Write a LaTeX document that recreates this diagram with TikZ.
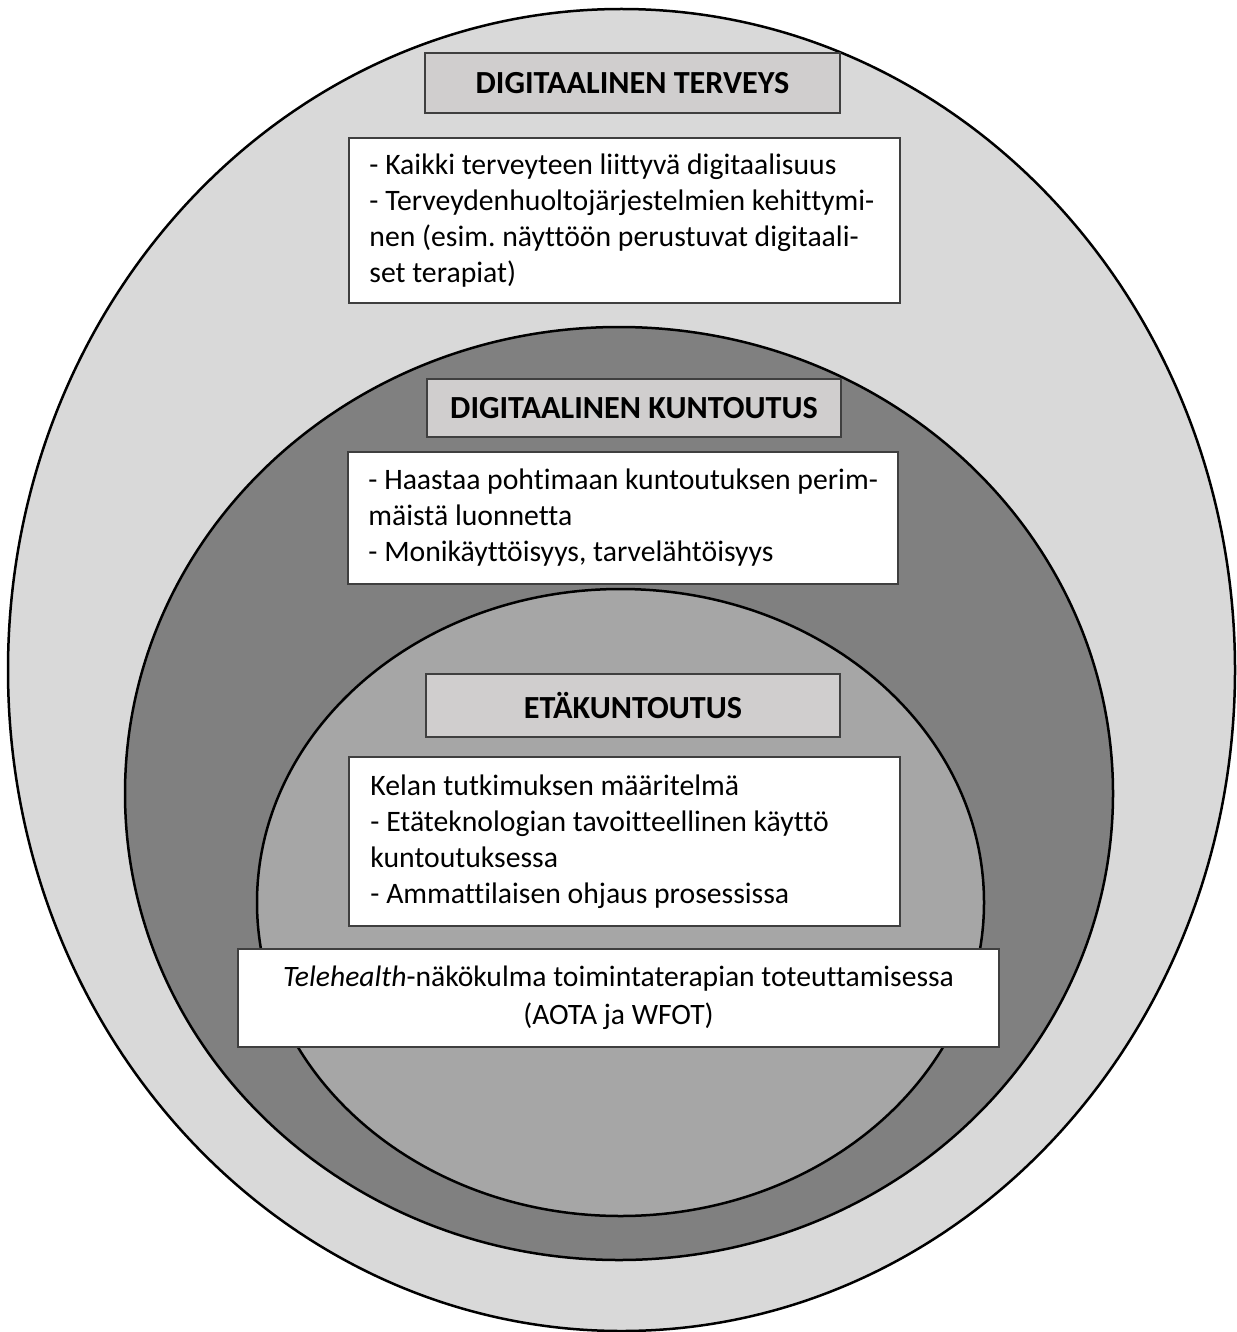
\documentclass[tikz,border=0pt]{standalone}
\usepackage{fontspec}
\setmainfont{Carlito}[Ligatures=NoCommon]
\frenchspacing
\definecolor{outerfill}{HTML}{D9D9D9}
\definecolor{midfill}{HTML}{808080}
\definecolor{innerfill}{HTML}{A6A6A6}
\definecolor{titlefill}{HTML}{D0CECE}
\definecolor{boxline}{HTML}{3F3F3F}
\tikzset{
  ring/.style={draw=black, line width=2.5pt},
  titlebox/.style={draw=boxline, line width=1.5pt, fill=titlefill, inner sep=0pt,
    font=\fontsize{32.2}{38}\selectfont\bfseries},
  framebox/.style={draw=boxline, line width=1.5pt, fill=white, inner sep=0pt},
  boxtext/.style={inner sep=0pt, anchor=west, align=left, font=\fontsize{29.7}{36}\selectfont},
  telebox/.style={draw=boxline, line width=1.5pt, fill=white, inner sep=0pt,
    align=center, font=\fontsize{29.6}{38}\selectfont}
}
\begin{document}
\begin{tikzpicture}[x=1pt, y=-1pt]
\useasboundingbox (0,0) rectangle (1236,1332);
\fill[white] (0,0) rectangle (1236,1332);
% rings
\draw[ring, fill=outerfill] (621.5,670) ellipse [x radius=613.5, y radius=661];
\draw[ring, fill=midfill] (619,793.5) ellipse [x radius=494, y radius=466.5];
\draw[ring, fill=innerfill] (620.5,902.5) ellipse [x radius=363.5, y radius=313.5];
% boxes
\node[titlebox, minimum width=415pt, minimum height=60pt] (t1) at (632.5,83) {DIGITAALINEN TERVEYS};
\node[framebox, minimum width=551pt, minimum height=165pt] (b1) at (624.5,220.5) {};
\node[boxtext] (b1t) at ([xshift=21pt]b1.west)
  {- Kaikki terveyteen liittyvä digitaalisuus\\- Terveydenhuoltojärjestelmien kehittymi-\\nen (esim. näyttöön perustuvat digitaali-\\set terapiat)};
\node[titlebox, minimum width=414pt, minimum height=58pt] (t2) at (634,408) {DIGITAALINEN KUNTOUTUS};
\node[framebox, minimum width=550pt, minimum height=132pt] (b2) at (623,518) {};
\node[boxtext] (b2t) at ([xshift=21pt]b2.west)
  {- Haastaa pohtimaan kuntoutuksen perim-\\mäistä luonnetta\\- Monikäyttöisyys, tarvelähtöisyys};
\node[titlebox, minimum width=414pt, minimum height=63pt] (t3) at (633,705.5) {ETÄKUNTOUTUS};
\node[framebox, minimum width=551pt, minimum height=169pt] (b3) at (624.5,841.5) {};
\node[boxtext] (b3t) at ([xshift=22pt]b3.west)
  {Kelan tutkimuksen määritelmä\\- Etäteknologian tavoitteellinen käyttö\\kuntoutuksessa\\- Ammattilaisen ohjaus prosessissa};
\node[telebox, minimum width=761pt, minimum height=98pt] (b4) at (618.5,998)
  {\textit{Telehealth}-näkökulma toimintaterapian toteuttamisessa\\(AOTA ja WFOT)};
\end{tikzpicture}
\end{document}
